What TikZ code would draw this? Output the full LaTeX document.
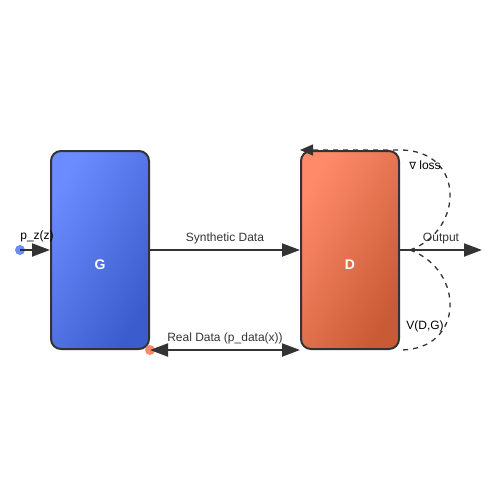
\documentclass[tikz,border=0pt]{standalone}
\usepackage{fontspec}
\setmainfont{Liberation Sans}
\newfontfamily\symfont{DejaVu Sans}
\usetikzlibrary{positioning,arrows.meta,calc}

\definecolor{gtop}{HTML}{6A8CFF}
\definecolor{gbot}{HTML}{3A5CCC}
\definecolor{dtop}{HTML}{FF8A6A}
\definecolor{dbot}{HTML}{C85A35}
\definecolor{edge}{HTML}{333333}

\begin{document}
\begin{tikzpicture}[
  x=1pt, y=-1pt,
  font=\fontsize{12}{14}\selectfont,
  block/.style={draw=edge, line width=2pt, rounded corners=10pt,
    minimum width=98pt, minimum height=198pt, inner sep=0pt},
  tag/.style={text=white, font=\fontsize{14}{16}\selectfont\bfseries},
  arr/.style={-{Triangle[length=18pt,width=13pt]}, edge, line width=2pt},
  biarr/.style={{Triangle[length=18pt,width=13pt]}-{Triangle[length=18pt,width=13pt]}, edge, line width=2pt},
  loop/.style={edge, line width=1.3pt, dash pattern=on 5pt off 5pt},
  dot/.style={circle, inner sep=0pt, minimum size=10pt},
  note/.style={midway, above, inner sep=5pt}
]
\useasboundingbox (0,0) rectangle (500,500);

% blocks
\node[block, left color=gtop, right color=gbot, shading angle=60] (G) at (100,250) {};
\node[block, left color=dtop, right color=dbot, shading angle=60] (D) at (350,250) {};
\node[tag] at ($(G.center)+(0,15)$) {G};
\node[tag] at ($(D.center)+(0,15)$) {D};

% end points
\node[dot, fill=gtop] (noise) at (20,250) {};
\node[dot, fill=dtop] (real) at (150,350) {};
\coordinate (out) at (482,250);
\coordinate (tap) at (410,250);

% arrows with labels
\draw[arr] (noise.center) -- (G.west);
\draw[arr] (G.east) -- node[note] {Synthetic Data} (D.west);
\draw[biarr] (real.center) -- node[note] {Real Data (p\_data(x))} (D.south west);
\draw[arr] (D.east) -- node[note] {Output} (out);
\node at (37,236) {p\_z(z)};

% feedback loops
\draw[loop, -{Triangle[length=13pt,width=11pt]}] (tap) .. controls (465,230) and (465,150) .. (D.north east) -- (D.north west);
\draw[loop] (tap) .. controls (465,270) and (465,350) .. (D.south east);
\node at (425,165) {{\symfont\fontsize{10}{12}\selectfont ∇} loss};
\node at (425,326) {V(D,G)};

\end{tikzpicture}
\end{document}
